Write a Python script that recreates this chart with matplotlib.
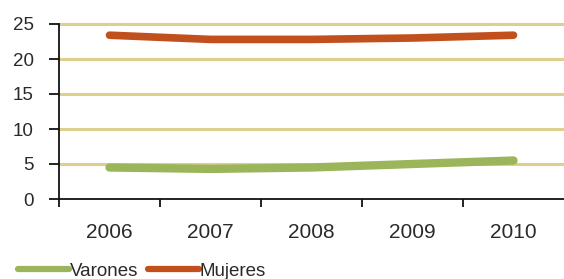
import matplotlib
matplotlib.use("Agg")
import matplotlib.pyplot as plt
import numpy as np

years = ["2006", "2007", "2008", "2009", "2010"]
varones = [4.5, 4.3, 4.5, 5.0, 5.5]
mujeres = [23.4, 22.8, 22.8, 23.0, 23.4]
yticks = [0, 5, 10, 15, 20, 25]

plt.rcParams['font.family'] = ['Liberation Sans', 'DejaVu Sans']

fig = plt.figure(figsize=(5.64, 2.79), dpi=100)
ax = fig.add_axes([59/564, 1-199/279, 1-59/564, (199-24)/279])

x = np.arange(len(years)) + 0.5
grid_c = '#DDD08E'
for t in yticks[1:]:
    ax.axhline(t, color=grid_c, lw=2.2, zorder=1, clip_on=False)

ax.plot(x, varones, color='#9BB55A', lw=6, solid_capstyle='round', label='Varones', zorder=3)
ax.plot(x, mujeres, color='#C2501C', lw=5.5, solid_capstyle='round', label='Mujeres', zorder=3)

ax.set_xlim(0, len(years))
ax.set_ylim(0, 25)
ax.set_yticks(yticks)
ax.set_yticklabels([str(t) for t in yticks], fontsize=13.5, color='#2a2a2a')
ax.set_xticks(np.arange(len(years)))
ax.set_xticks(x, minor=True)
ax.set_xticklabels([])
ax.set_xticklabels(years, minor=True, fontsize=15, color='#2a2a2a')
ax.tick_params(axis='x', which='major', direction='out', length=6, width=1.3, color='#111111')
ax.tick_params(axis='x', which='minor', length=0, pad=17)
ax.tick_params(axis='y', direction='out', length=7, width=1.3, color='#111111', pad=11)

for s in ['top', 'right']:
    ax.spines[s].set_visible(False)
for s in ['left', 'bottom']:
    ax.spines[s].set_color('#111111')
    ax.spines[s].set_linewidth(1.3)

leg = fig.legend(loc='center left', bbox_to_anchor=(18/564, 1-271/279), ncol=2,
                 frameon=False, fontsize=13.5, handlelength=2.7, handletextpad=0.05,
                 columnspacing=0.55, borderaxespad=0, borderpad=0)
for line in leg.get_lines():
    line.set_linewidth(4.5)
for t in leg.get_texts():
    t.set_color('#2a2a2a')

fig.savefig('out.png', dpi=100)
